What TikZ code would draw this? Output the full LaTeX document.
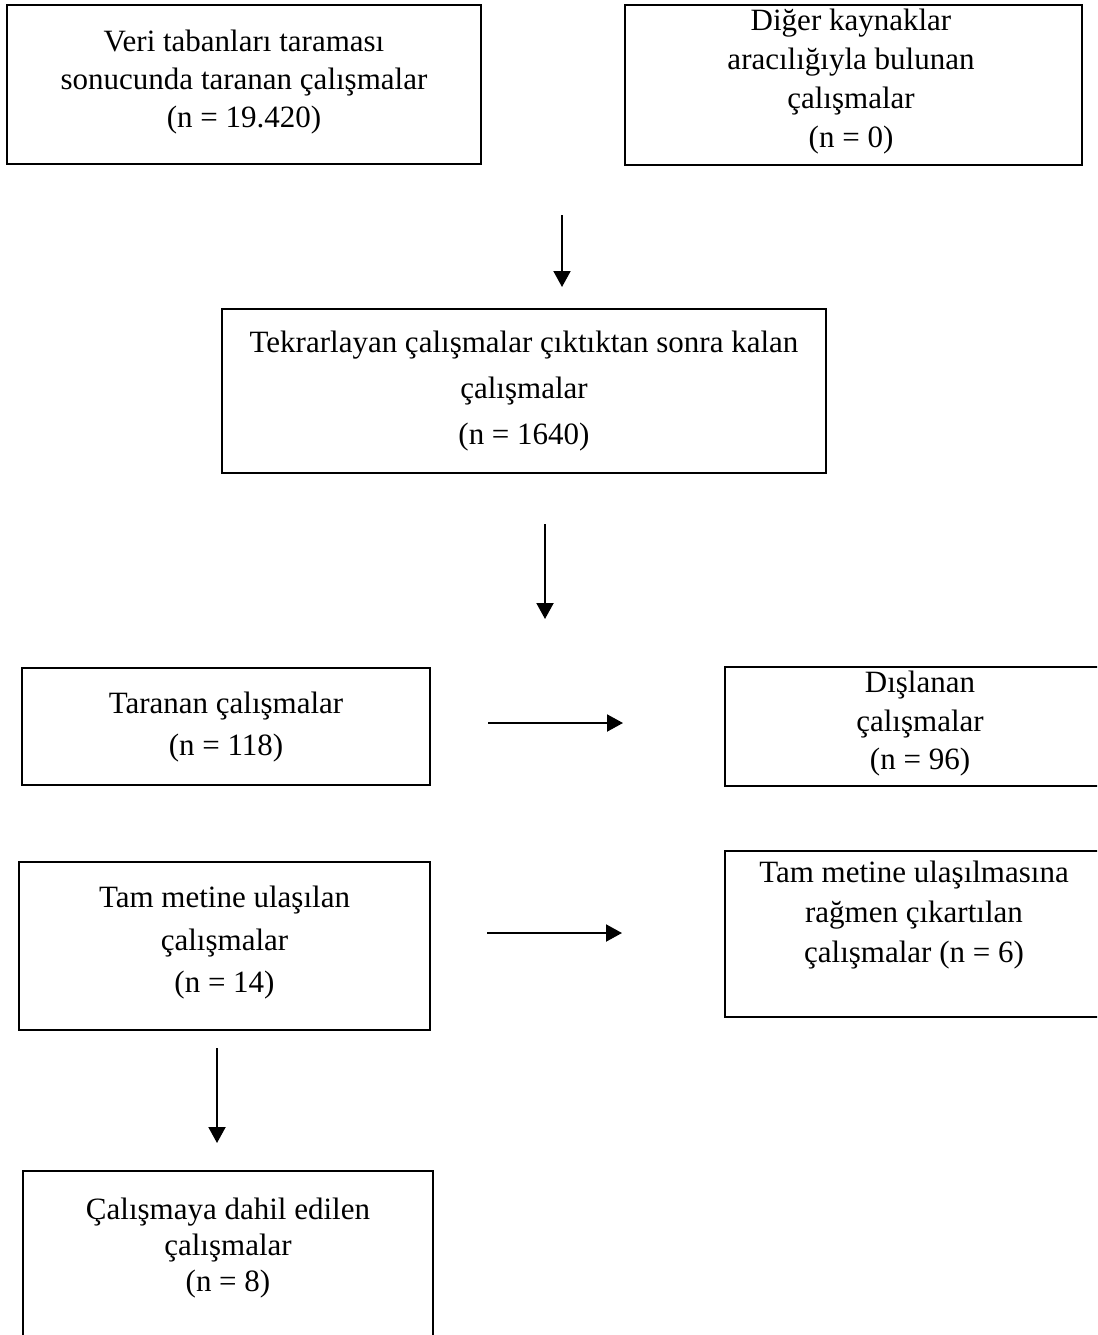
\documentclass[tikz,border=0pt]{standalone}
\usepackage{fontspec}
\setmainfont{Liberation Serif}
\usetikzlibrary{arrows.meta}
\begin{document}
\begin{tikzpicture}[x=1pt,y=-1pt,
  box/.style={draw, line width=1.8pt, rectangle, inner sep=0pt},
  txt/.style={align=center, inner sep=0pt, font=\fontsize{31}{39}\selectfont},
  arr/.style={line width=2pt, -{Triangle[width=17pt,length=16pt]}}]
\useasboundingbox (0,0) rectangle (1097,1335);
\clip (0,0) rectangle (1097,1335);
% boxes
\node[box, minimum width=474pt, minimum height=159pt] (b1) at (244,84.5) {};
\node[box, minimum width=457pt, minimum height=160pt] (b2) at (853.5,85) {};
\node[box, minimum width=604pt, minimum height=164pt] (b3) at (524,391) {};
\node[box, minimum width=408pt, minimum height=117pt] (b4) at (226,726.5) {};
\node[box, minimum width=390pt, minimum height=119pt] (b5) at (920,726.5) {};
\node[box, minimum width=411pt, minimum height=168pt] (b6) at (224.5,946) {};
\node[box, minimum width=378pt, minimum height=166pt] (b7) at (914,934) {};
\node[box, minimum width=410pt, minimum height=179pt] (b8) at (228,1260.5) {};
% texts
\node[txt, font=\fontsize{31}{38}\selectfont] (t1) at (244,82) {Veri tabanları taraması\\sonucunda taranan çalışmalar\\(n = 19.420)};
\node[txt] (t2) at (851,82) {Diğer kaynaklar\\aracılığıyla bulunan\\çalışmalar\\(n = 0)};
\node[txt, font=\fontsize{31}{46}\selectfont] (t3) at (524,391) {Tekrarlayan çalışmalar çıktıktan sonra kalan\\çalışmalar\\(n = 1640)};
\node[txt, font=\fontsize{31}{42}\selectfont] (t4) at (226,727) {Taranan çalışmalar\\(n = 118)};
\node[txt, font=\fontsize{31}{38.5}\selectfont] (t5) at (920,724) {Dışlanan\\çalışmalar\\(n = 96)};
\node[txt, font=\fontsize{31}{42.5}\selectfont] (t6) at (224.5,943) {Tam metine ulaşılan\\çalışmalar\\(n = 14)};
\node[txt, font=\fontsize{31}{40}\selectfont] (t7) at (914,915) {Tam metine ulaşılmasına\\rağmen çıkartılan\\çalışmalar (n = 6)};
\node[txt, font=\fontsize{31}{36}\selectfont] (t8) at (228,1248) {Çalışmaya dahil edilen\\çalışmalar\\(n = 8)};
% arrow end points
\coordinate (a1s) at (562,215); \coordinate (a1e) at (562,287);
\coordinate (a2s) at (545,524); \coordinate (a2e) at (545,619);
\coordinate (a3s) at (488,723); \coordinate (a3e) at (623,723);
\coordinate (a4s) at (487,933); \coordinate (a4e) at (622,933);
\coordinate (a5s) at (217,1048); \coordinate (a5e) at (217,1143);
\draw[arr] (a1s) -- (a1e);
\draw[arr] (a2s) -- (a2e);
\draw[arr] (a3s) -- (a3e);
\draw[arr] (a4s) -- (a4e);
\draw[arr] (a5s) -- (a5e);
\end{tikzpicture}
\end{document}
